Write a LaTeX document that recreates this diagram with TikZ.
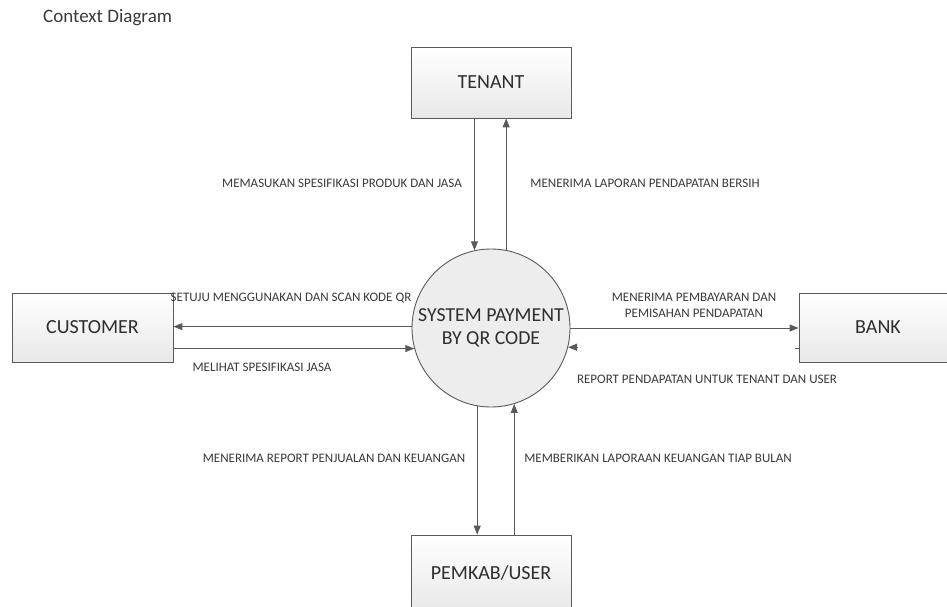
\documentclass[tikz,border=0pt]{standalone}
\usepackage{fontspec}
\setmainfont{Carlito}
\usetikzlibrary{arrows.meta}
\definecolor{edge}{HTML}{5A5A5A}
\definecolor{ink}{HTML}{2E2E2E}
\definecolor{lbl}{HTML}{3A3A3A}
\tikzset{
  entity/.style={draw=edge, line width=0.9pt, top color=white, bottom color=black!9,
     text=ink, font=\fontsize{20}{22}\selectfont, inner sep=0pt},
  proc/.style={circle, draw=edge, line width=0.9pt, fill=black!7, text=ink,
     minimum size=158pt, inner sep=0pt, align=center,
     font=\fontsize{19.8}{23}\selectfont},
  flow/.style={draw=edge, line width=1pt, -{Triangle[length=9pt,width=7pt]}},
  flowlbl/.style={text=lbl, font=\fontsize{13}{16}\selectfont, inner sep=0pt, align=center},
}
\begin{document}
\begin{tikzpicture}[x=1pt,y=-1pt]
\useasboundingbox[fill=white] (0,0) rectangle (947,606);

\node[anchor=west, text=lbl, font=\fontsize{19}{21}\selectfont, inner sep=0pt] (title) at (43,18) {Context Diagram};

\node[entity, minimum width=160pt, minimum height=71pt] (tenant) at (491,82.5) {TENANT};
\node[entity, minimum width=161pt, minimum height=69pt] (customer) at (92.5,327.5) {CUSTOMER};
\node[entity, minimum width=158pt, minimum height=69pt] (bank) at (878,327.5) {BANK};
\node[entity, minimum width=160pt, minimum height=76pt] (pemkab) at (491,573) {PEMKAB/USER};
\node[proc] (sys) at (491,328) {SYSTEM PAYMENT\\BY QR CODE};

% tenant <-> system
\draw[flow] (tenant.south -| sys.102.4) -- (sys.102.4);
\draw[flow] (sys.79) -- (sys.79 |- tenant.south);
% system <-> pemkab
\draw[flow] (sys.-100.9) -- (sys.-100.9 |- pemkab.north);
\draw[flow] (pemkab.north -| sys.-73.1) -- (sys.-73.1);
% customer <-> system
\draw[flow] (sys.179.3) -- (sys.179.3 -| customer.east);
\draw[flow] (customer.east |- sys.195.4) -- (sys.195.4);
% system <-> bank
\draw[flow] (sys.0.7) -- (sys.0.7 -| bank.west);
\coordinate (rtail) at ([xshift=11pt]sys.-14.7);
\draw[flow] (rtail) -- (sys.-14.7);
\coordinate (stub) at ([xshift=-3.5pt]bank.west |- sys.-15.4);
\draw[draw=edge, line width=1pt] (stub) -- (stub -| bank.west);
% redraw the short tail in white so only the head shows
\draw[white, line width=2pt] ([xshift=2pt]rtail) -- ([xshift=-1pt]rtail);

% labels
\node[flowlbl] (l1) at (342,183) {MEMASUKAN SPESIFIKASI PRODUK DAN JASA};
\node[flowlbl] (l2) at (645,183) {MENERIMA LAPORAN PENDAPATAN BERSIH};
\node[flowlbl] (l3) at (291,298.5) {SETUJU MENGGUNAKAN DAN SCAN KODE QR};
\node[flowlbl] (l4) at (262,367) {MELIHAT SPESIFIKASI JASA};
\node[flowlbl] (l5) at (694,305) {MENERIMA PEMBAYARAN DAN\\PEMISAHAN PENDAPATAN};
\node[flowlbl] (l6) at (707,379) {REPORT PENDAPATAN UNTUK TENANT DAN USER};
\node[flowlbl] (l7) at (334,458) {MENERIMA REPORT PENJUALAN DAN KEUANGAN};
\node[flowlbl] (l8) at (658,458) {MEMBERIKAN LAPORAAN KEUANGAN TIAP BULAN};
\end{tikzpicture}
\end{document}
